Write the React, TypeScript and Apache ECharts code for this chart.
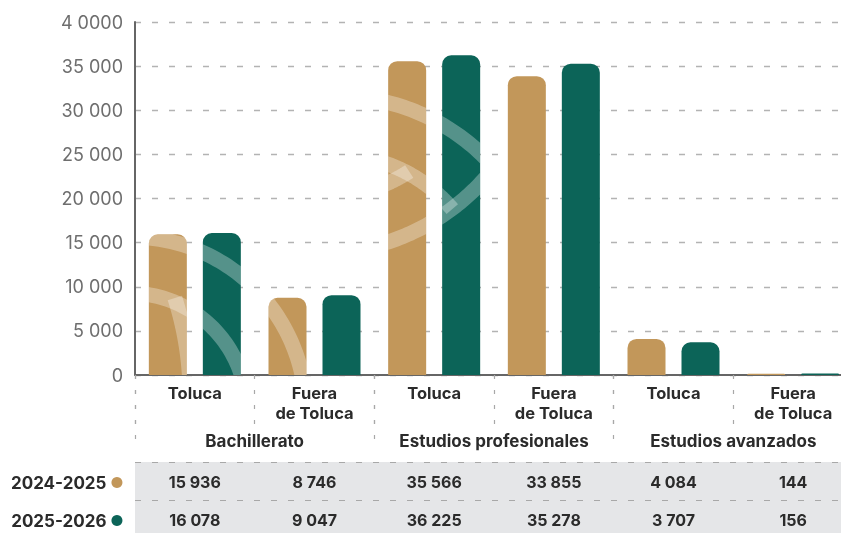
import React, { useEffect, useRef } from "react";
import * as echarts from "echarts";

const categories = ["Toluca", "Fuera\nde Toluca", "Toluca", "Fuera\nde Toluca", "Toluca", "Fuera\nde Toluca"];
const groups = ["Bachillerato", "Estudios profesionales", "Estudios avanzados"];
const seriesNames = ["2024-2025", "2025-2026"];
const values2425 = [15936, 8746, 35566, 33855, 4084, 144];
const values2526 = [16078, 9047, 36225, 35278, 3707, 156];
const yTickLabels = ["0", "5 000", "10 000", "15 000", "20 000", "25 000", "30 000", "35 000", "4 0000"];
const colors = ["#c2975a", "#0c6458"];

const FONT = "Inter, 'Noto Sans', sans-serif";
const TEXT = "#2b2b2b";
const BAR_W = 38;
const BAR_GAP = 16;
const CHART_W = 870;

const fmt = (n: number) => String(n).replace(/\B(?=(\d{3})+(?!\d))/g, " ");

// decorative arc bands (pixel space)
const decoArcs = [
  { cx: 131, cy: 412, r: 175, a0: -1.8, a1: 0.05 },
  { cx: 129, cy: 411, r: 118, a0: -1.8, a1: 0.1 },
  { cx: -128, cy: 395, r: 318, a0: -0.31, a1: 0 },
  { cx: 336, cy: 307, r: 211, a0: -2.2, a1: -0.7 },
  { cx: 336, cy: 307, r: 152, a0: -1.5, a1: -0.7 },
  { cx: 319, cy: 31, r: 222, a0: 0.7, a1: 1.75 },
  { cx: 319, cy: 31, r: 167, a0: 1.0, a1: 1.3 },
];
const BAND_W = 15;

type P = [number, number];

function bandPolygon(a: { cx: number; cy: number; r: number; a0: number; a1: number }): P[] {
  const n = 80;
  const pts: P[] = [];
  const ro = a.r + BAND_W / 2;
  const ri = a.r - BAND_W / 2;
  for (let k = 0; k <= n; k++) {
    const t = a.a0 + ((a.a1 - a.a0) * k) / n;
    pts.push([a.cx + ro * Math.cos(t), a.cy + ro * Math.sin(t)]);
  }
  for (let k = n; k >= 0; k--) {
    const t = a.a0 + ((a.a1 - a.a0) * k) / n;
    pts.push([a.cx + ri * Math.cos(t), a.cy + ri * Math.sin(t)]);
  }
  return pts;
}

function clipPoly(subject: P[], clip: P[]): P[] {
  let area = 0;
  for (let i = 0; i < clip.length; i++) {
    const p = clip[i], q = clip[(i + 1) % clip.length];
    area += p[0] * q[1] - q[0] * p[1];
  }
  const sign = area > 0 ? 1 : -1;
  let output = subject;
  for (let i = 0; i < clip.length; i++) {
    const a = clip[i], b = clip[(i + 1) % clip.length];
    if (Math.hypot(b[0] - a[0], b[1] - a[1]) < 1e-6) continue;
    const input = output;
    output = [];
    if (!input.length) break;
    const inside = (p: P) => sign * ((b[0] - a[0]) * (p[1] - a[1]) - (b[1] - a[1]) * (p[0] - a[0])) >= 0;
    const inter = (p: P, q: P): P => {
      const d1x = q[0] - p[0], d1y = q[1] - p[1];
      const d2x = b[0] - a[0], d2y = b[1] - a[1];
      const den = d1x * d2y - d1y * d2x;
      if (Math.abs(den) < 1e-12) return p;
      const t = ((a[0] - p[0]) * d2y - (a[1] - p[1]) * d2x) / den;
      return [p[0] + t * d1x, p[1] + t * d1y];
    };
    for (let j = 0; j < input.length; j++) {
      const cur = input[j];
      const prev = input[(j + input.length - 1) % input.length];
      const ci = inside(cur), pi = inside(prev);
      if (ci) {
        if (!pi) output.push(inter(prev, cur));
        output.push(cur);
      } else if (pi) {
        output.push(inter(prev, cur));
      }
    }
  }
  return output;
}

function barShape(x0: number, x1: number, y0: number, y1: number): P[] {
  const r = Math.max(0.5, Math.min(9, (x1 - x0) / 2, y1 - y0));
  const pts: P[] = [[x0, y1], [x0, y0 + r]];
  for (let k = 1; k < 8; k++) {
    const t = Math.PI + (Math.PI / 2) * (k / 8);
    pts.push([x0 + r + r * Math.cos(t), y0 + r + r * Math.sin(t)]);
  }
  pts.push([x0 + r, y0]);
  pts.push([x1 - r, y0]);
  for (let k = 1; k < 8; k++) {
    const t = 1.5 * Math.PI + (Math.PI / 2) * (k / 8);
    pts.push([x1 - r + r * Math.cos(t), y0 + r + r * Math.sin(t)]);
  }
  pts.push([x1, y0 + r]);
  pts.push([x1, y1]);
  return pts;
}

const decoBands = decoArcs.map(bandPolygon);

export default function App() {
  const ref = useRef<HTMLDivElement>(null);
  useEffect(() => {
    if (!ref.current) return;
    const chart = echarts.init(ref.current, undefined, { renderer: "svg" });
    const decoData: number[][] = [];
    [values2425, values2526].forEach((vals, s) => vals.forEach((v, i) => decoData.push([i, v, s])));

    const tickDash = { type: [4, 11] as any, color: "#a8a8a8", width: 1.2 };

    chart.setOption({
      animation: false,
      textStyle: { fontFamily: FONT },
      grid: { left: 135, top: 22, width: 718, height: 353, containLabel: false },
      legend: {
        data: seriesNames,
        orient: "vertical",
        left: 11,
        top: 474,
        padding: 0,
        height: 59,
        icon: "circle",
        itemWidth: 11,
        itemHeight: 11,
        itemGap: 21,
        align: "right",
        selectedMode: false,
        textStyle: { fontFamily: FONT, fontSize: 17, fontWeight: 700, color: TEXT, lineHeight: 17 },
      },
      graphic: [
        { type: "rect", z: -10, shape: { x: 135, y: 462, width: 706, height: 71 }, style: { fill: "#e5e6e8" } },
        { type: "line", z: -9, shape: { x1: 135, y1: 462.5, x2: 841, y2: 462.5 }, style: { stroke: "#a8a8a8", lineWidth: 1.2, lineDash: [6, 11] } },
        { type: "line", z: -9, shape: { x1: 135, y1: 500.5, x2: 841, y2: 500.5 }, style: { stroke: "#a8a8a8", lineWidth: 1.2, lineDash: [6, 11] } },
      ],
      xAxis: [
        {
          type: "category",
          data: categories,
          position: "bottom",
          axisLine: { show: true, lineStyle: { color: "#666", width: 2 } },
          axisTick: { show: true, length: 50, lineStyle: tickDash },
          axisLabel: { interval: 0, margin: 8, fontFamily: FONT, fontSize: 16.5, fontWeight: 700, color: TEXT, lineHeight: 20 },
        },
        {
          type: "category",
          data: groups,
          position: "bottom",
          axisLine: { show: false },
          axisTick: { show: true, length: 66, lineStyle: tickDash },
          axisLabel: { interval: 0, margin: 57, fontFamily: FONT, fontSize: 17, fontWeight: 700, color: TEXT },
        },
        {
          type: "category",
          data: values2425.map(fmt),
          position: "bottom",
          axisLine: { show: false },
          axisTick: { show: false },
          axisLabel: { interval: 0, margin: 99, fontFamily: FONT, fontSize: 16, fontWeight: 700, color: TEXT },
        },
        {
          type: "category",
          data: values2526.map(fmt),
          position: "bottom",
          axisLine: { show: false },
          axisTick: { show: false },
          axisLabel: { interval: 0, margin: 137, fontFamily: FONT, fontSize: 16, fontWeight: 700, color: TEXT },
        },
      ],
      yAxis: {
        type: "value",
        min: 0,
        max: 40000,
        interval: 5000,
        axisLine: { show: true, lineStyle: { color: "#666", width: 2 } },
        axisTick: { show: false },
        axisLabel: {
          margin: 12,
          fontFamily: FONT,
          fontSize: 18,
          color: "#6e6e6e",
          formatter: (v: number) => yTickLabels[Math.round(v / 5000)] ?? "",
        },
        splitLine: { show: true, lineStyle: { type: [6, 11] as any, color: "#b3b3b3", width: 1.3 } },
      },
      series: [
        {
          name: seriesNames[0],
          type: "bar",
          xAxisIndex: 0,
          data: values2425,
          barWidth: BAR_W,
          barGap: `${(BAR_GAP / BAR_W) * 100}%`,
          itemStyle: { color: colors[0], borderRadius: [9, 9, 0, 0] },
        },
        {
          name: seriesNames[1],
          type: "bar",
          xAxisIndex: 0,
          data: values2526,
          barWidth: BAR_W,
          barGap: `${(BAR_GAP / BAR_W) * 100}%`,
          itemStyle: { color: colors[1], borderRadius: [9, 9, 0, 0] },
        },
        {
          type: "custom",
          xAxisIndex: 0,
          silent: true,
          z: 5,
          encode: { x: 0, y: 1 },
          data: decoData,
          renderItem: (_params: any, api: any) => {
            const i = api.value(0);
            const v = api.value(1);
            const s = api.value(2);
            const base = api.coord([i, 0]);
            const top = api.coord([i, v]);
            const off = (BAR_W + BAR_GAP) / 2;
            const cx = base[0] + (s === 0 ? -off : off);
            const shape = barShape(cx - BAR_W / 2, cx + BAR_W / 2, top[1], base[1]);
            const children: any[] = [];
            decoBands.forEach((band) => {
              const pts = clipPoly(band, shape);
              if (pts.length >= 3) {
                children.push({
                  type: "polygon",
                  shape: { points: pts },
                  style: { fill: "rgba(255,255,255,0.3)" },
                });
              }
            });
            return { type: "group", children };
          },
        },
      ],
    });
    return () => chart.dispose();
  }, []);
  return <div ref={ref} style={{ position: "fixed", left: 0, top: 0, width: CHART_W, height: 533 }} />;
}
